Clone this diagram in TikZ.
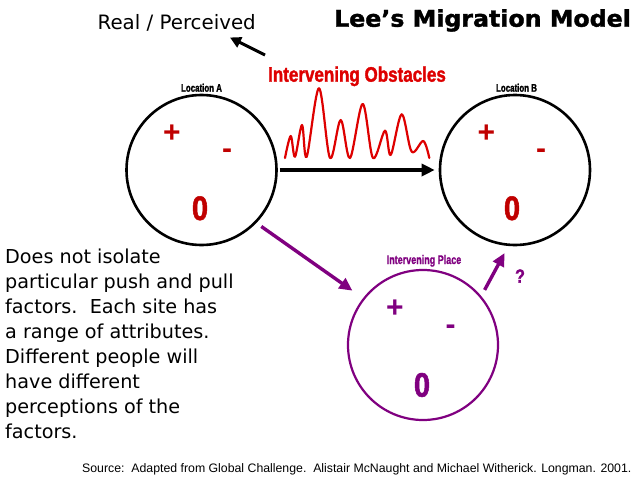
\documentclass[tikz,border=0pt]{standalone}
\usepackage{fontspec}
\setmainfont{DejaVu Sans}
\newfontfamily\comic{DejaVu Sans}
\newfontfamily\arial{Liberation Sans}
\newfontfamily\heavy[FakeStretch=1.03, BoldFeatures={FakeBold=1.6}]{DejaVu Sans}
\newfontfamily\impact[FakeStretch=0.72, BoldFeatures={FakeBold=1.2}]{Liberation Sans}
\newfontfamily\impacto[FakeStretch=0.81, BoldFeatures={FakeBold=1.5}]{Liberation Sans}
\newfontfamily\impactw[FakeStretch=0.85, BoldFeatures={FakeBold=1.5}]{Liberation Sans}
\usetikzlibrary{arrows.meta,calc}
\definecolor{symred}{RGB}{192,0,0}
\definecolor{obsred}{RGB}{222,0,0}
\definecolor{purp}{RGB}{128,0,128}
\tikzset{
  place/.style={circle, draw=black, line width=2.6pt, minimum size=150pt, inner sep=0pt},
  loclabel/.style={font=\impact\bfseries\fontsize{11}{13}\selectfont, inner sep=0pt, anchor=base},
  plus/.style={font=\arial\bfseries\fontsize{30}{32}\selectfont, inner sep=0pt, text=symred},
  zero/.style={font=\impactw\bfseries\fontsize{34}{36}\selectfont, inner sep=0pt, anchor=base, text=symred},
  bigarrow/.style={line width=3.4pt, -{Triangle[length=13pt,width=12pt]}},
}
\begin{document}
\begin{tikzpicture}[x=1pt,y=-1pt]
\useasboundingbox (0,0) rectangle (638,479);
\fill[white] (0,0) rectangle (638,479);

% titles
\node[font=\comic\fontsize{19.8}{22}\selectfont, inner sep=0pt, anchor=base] (real) at (176.7,29.3) {Real / Perceived};
\node[font=\heavy\bfseries\fontsize{23}{26}\selectfont, inner sep=0pt, anchor=base] (title) at (482.5,26.7) {Lee’s Migration Model};
\node[font=\impacto\bfseries\fontsize{21}{24}\selectfont, text=obsred, inner sep=0pt, anchor=base] (obst) at (357,81.7) {Intervening Obstacles};

\coordinate (rpTail) at (265,55);
\coordinate (rpTip) at (230,37.5);
\draw[line width=3pt, -{Triangle[length=11pt,width=11pt]}] (rpTail) -- (rpTip);

% circles
\node[place] (A) at (201.5,170) {};
\node[place] (B) at (515,170) {};
\node[place, draw=purp, line width=2.2pt] (P) at (423,345) {};

\node[loclabel] (la) at (201.5,91.7) {Location A};
\node[loclabel] (lb) at (516.5,91.7) {Location B};
\node[loclabel, text=purp, font=\impact\bfseries\fontsize{12.5}{14}\selectfont] (lp) at (424,264) {Intervening Place};

% contents A
\node[plus] (pa) at (172,134) {+};
\node[plus] (ma) at (227,154) {-};
\node[zero] (za) at (200,220) {0};
% contents B
\node[plus] (pb) at (486.5,134) {+};
\node[plus] (mb) at (541,154) {-};
\node[zero] (zb) at (512,220) {0};
% contents P
\node[plus, text=purp] (pp) at (395,309) {+};
\node[plus, text=purp] (mp) at (450.5,330) {-};
\node[zero, text=purp] (zp) at (422,396.7) {0};

\node[font=\impactw\bfseries\fontsize{19}{20}\selectfont, text=purp, inner sep=0pt] (q) at (520,276) {?};

% wave
\draw[obsred, line width=2.2pt, line join=round, line cap=round] plot[smooth, tension=0.55] coordinates {
 (285,158) (290.7,136) (295,156.7) (302,125) (306.7,156.7) (319,88.3) (330,158) (340.7,120)
 (350,158) (362.7,104) (373,158) (385,130.7) (390.7,155) (401.7,114.3) (411.7,151.7) (423.3,141) (429.3,158)};

% arrows
\draw[bigarrow, shorten <=2pt, shorten >=4pt] (A.east) -- (B.west);
\draw[bigarrow, purp, shorten <=6pt, shorten >=13pt] (A.-44) -- (P.142);
\draw[bigarrow, purp, shorten <=7pt, shorten >=8pt] (P.40) -- (B.-95);

% text block
\node[font=\comic\fontsize{19.2}{25.1}\selectfont, align=left, inner sep=0pt, anchor=north west] (desc) at (5,248.5) {Does not isolate\\
particular push and pull\\
factors.\ \ Each site has\\
a range of attributes.\\
Different people will\\
have different\\
perceptions of the\\
factors.};

\node[font=\arial\fontsize{12.3}{14}\selectfont, inner sep=0pt, anchor=base west] (src) at (82,472.5) {Source:\ \ Adapted from Global Challenge.\ \ Alistair McNaught and Michael Witherick. Longman. 2001.};
\end{tikzpicture}
\end{document}
